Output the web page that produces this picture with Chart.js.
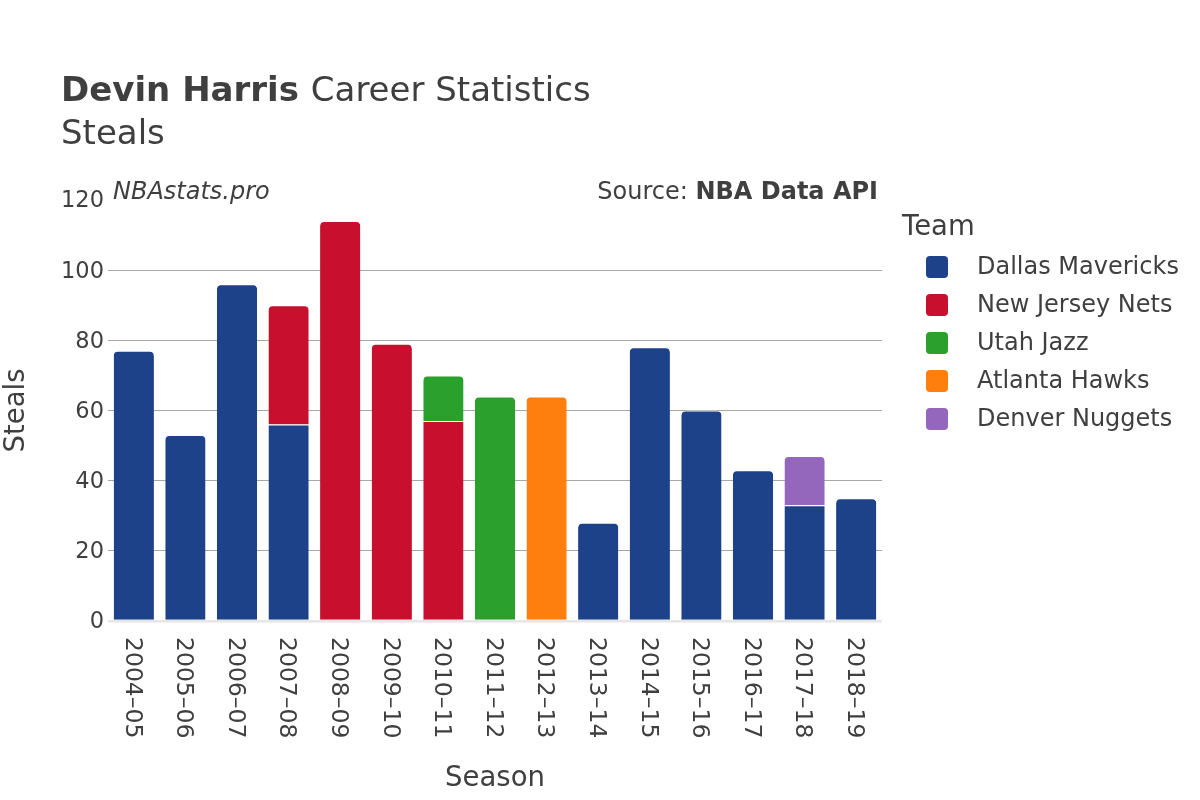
<!DOCTYPE html>
<html><head><meta charset="utf-8">
<script src="https://cdn.jsdelivr.net/npm/chart.js@4.4.0/dist/chart.umd.min.js"></script>
<style>html,body{margin:0;padding:0;background:#fff}#wrap{width:1200px;height:800px;position:relative}</style>
</head><body><div id="wrap"><canvas id="c" width="1200" height="800"></canvas></div>
<script>
const seasons = ["2004–05","2005–06","2006–07","2007–08","2008–09","2009–10","2010–11","2011–12","2012–13","2013–14","2014–15","2015–16","2016–17","2017–18","2018–19"];
const dallas  = [77,53,96,56,null,null,null,null,null,28,78,60,43,33,35];
const nets    = [null,null,null,34,114,79,57,null,null,null,null,null,null,null,null];
const utah    = [null,null,null,null,null,null,13,64,null,null,null,null,null,null,null];
const atlanta = [null,null,null,null,null,null,null,null,64,null,null,null,null,null,null];
const denver  = [null,null,null,null,null,null,null,null,null,null,null,null,null,14,null];
const teams = ["Dallas Mavericks","New Jersey Nets","Utah Jazz","Atlanta Hawks","Denver Nuggets"];
const colors = ["#1d428a","#c8102e","#2ca02c","#ff7f0e","#9467bd"];
const yTicks = [0,20,40,60,80,100,120];

const FONT = "'DejaVu Sans', sans-serif";
const TXT = "#3f3f3f";

const series = [dallas, nets, utah, atlanta, denver];
const datasets = series.map((d,i)=>({
  label: teams[i], data: d, backgroundColor: colors[i],
  borderColor: "#ffffff", borderWidth: {top:1,left:0,right:0,bottom:0},
  borderRadius: 5, borderSkipped: 'start',
  categoryPercentage: 1.0, barPercentage: 0.78
}));

const decor = {
  id: 'decor',
  afterDraw(chart){
    const ctx = chart.ctx;
    const x = chart.scales.x, y = chart.scales.y, ca = chart.chartArea;
    ctx.save();
    ctx.fillStyle = TXT;
    // title
    ctx.textBaseline = 'alphabetic';
    ctx.textAlign = 'left';
    ctx.font = "bold 34px " + FONT;
    ctx.fillText("Devin Harris", 61, 101);
    const w = ctx.measureText("Devin Harris ").width;
    ctx.font = "34px " + FONT;
    ctx.fillText("Career Statistics", 61 + w, 101);
    ctx.fillText("Steals", 61, 144);
    // watermark + source
    ctx.font = "italic 24px " + FONT;
    ctx.fillText("NBAstats.pro", 113, 199);
    ctx.textAlign = 'right';
    ctx.font = "bold 24px " + FONT;
    const sw = ctx.measureText("NBA Data API").width;
    ctx.fillText("NBA Data API", 878, 199);
    ctx.font = "24px " + FONT;
    ctx.fillText("Source: ", 878 - sw, 199);
    // y ticks
    ctx.textAlign = 'right';
    ctx.textBaseline = 'middle';
    ctx.font = "22.5px " + FONT;
    yTicks.forEach(v => ctx.fillText(String(v), 104, y.getPixelForValue(v) + 1.5));
    // x labels rotated clockwise
    ctx.textAlign = 'left';
    ctx.textBaseline = 'middle';
    ctx.font = "23.5px " + FONT;
    seasons.forEach((s,i)=>{
      const px = x.getPixelForValue(i);
      ctx.save();
      ctx.translate(px - 2, 637);
      ctx.rotate(Math.PI/2);
      ctx.fillText(s, 0, 0);
      ctx.restore();
    });
    // axis titles
    ctx.textAlign = 'center';
    ctx.textBaseline = 'middle';
    ctx.font = "27.5px " + FONT;
    ctx.fillText("Season", (ca.left+ca.right)/2, 779);
    ctx.save();
    ctx.translate(17, (ca.top+ca.bottom)/2);
    ctx.rotate(-Math.PI/2);
    ctx.fillText("Steals", 0, 0);
    ctx.restore();
    // legend
    ctx.textAlign = 'left';
    ctx.textBaseline = 'middle';
    ctx.font = "27.5px " + FONT;
    ctx.fillText("Team", 902, 228);
    ctx.font = "24px " + FONT;
    teams.forEach((t,i)=>{
      const cy = 267 + i*38;
      ctx.fillStyle = colors[i];
      ctx.beginPath();
      ctx.roundRect(926, cy-11, 22, 22, 4);
      ctx.fill();
      ctx.fillStyle = TXT;
      ctx.fillText(t, 977, cy + 1);
    });
    ctx.restore();
  }
};

new Chart(document.getElementById('c'), {
  type: 'bar',
  data: { labels: seasons, datasets },
  options: {
    responsive: false, animation: false,
    layout: { padding: { left: 108, right: 318, top: 200, bottom: 179 } },
    plugins: { legend: { display: false }, title: { display: false }, tooltip: { enabled: false } },
    scales: {
      x: {
        stacked: true,
        ticks: { display: false },
        grid: { display: false, drawTicks: false },
        border: { display: false },
        afterFit(s){ s.height = 0; }
      },
      y: {
        stacked: true, min: 0, max: 120,
        afterBuildTicks(s){ s.ticks = yTicks.map(v=>({value:v})); },
        ticks: { display: false },
        grid: {
          drawTicks: false,
          color: ctx => {
            if (!ctx.tick) return 'rgba(0,0,0,0)';
            if (ctx.tick.value === 0) return '#e6e6e6';
            if (ctx.tick.value === 120) return 'rgba(0,0,0,0)';
            return '#a8a8a8';
          },
          lineWidth: ctx => ctx.tick && ctx.tick.value === 0 ? 2.5 : 1
        },
        border: { display: false },
        afterFit(s){ s.width = 0; }
      }
    }
  },
  plugins: [decor]
});
</script></body></html>
